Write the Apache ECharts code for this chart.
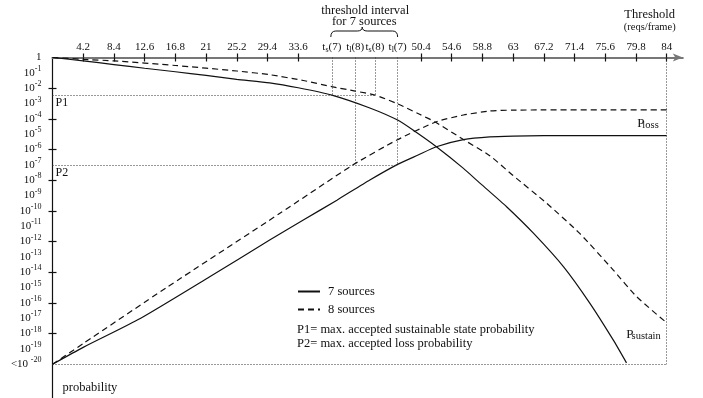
<!DOCTYPE html>
<html><head><meta charset="utf-8">
<script src="https://cdn.jsdelivr.net/npm/echarts@6/dist/echarts.min.js"></script>
<style>html,body{margin:0;padding:0;background:#fff}#c{width:703px;height:398px}</style>
</head><body><div id="c"></div>
<script>
// ---- axis ticks / labels ----
const xTickValues = [4.2, 8.4, 12.6, 16.8, 21, 25.2, 29.4, 33.6, 50.4, 54.6, 58.8, 63, 67.2, 71.4, 75.6, 79.8, 84];
const yLabelExponents = [0, -1, -2, -3, -4, -5, -6, -7, -8, -9, -10, -11, -12, -13, -14, -15, -16, -17, -18, -19, -20];
const yTickExponents = [-2, -4, -6, -8, -10, -12, -14, -16, -18];

// ---- threshold markers ----
const thresholdNames = ['ts(7)', 'tl(8)', 'ts(8)', 'tl(7)'];
const thresholdValues = [38.2, 41.4, 44.1, 47.2];
const thresholdLevel = ['P1', 'P2', 'P1', 'P2'];
const P1Log = -2.45;   // log10 of max. accepted sustainable state probability
const P2Log = -7;      // log10 of max. accepted loss probability
const floorLog = -20;
const xEnd = 84;

// ---- curves (threshold, log10 probability) ----
const sustain7X   = [0, 4.2, 8.4, 12.6, 16.8, 21, 25.2, 29.7, 33.6, 38.2, 43.4, 47.2, 49.3, 52.5, 56.2, 58.5, 62.1, 65.8, 69.9, 73.5, 76.7, 78.5];
const sustain7Log = [0, -0.22, -0.46, -0.70, -0.93, -1.17, -1.42, -1.65, -1.97, -2.45, -3.29, -4.08, -4.73, -5.82, -7.23, -8.21, -9.73, -11.47, -13.65, -16.03, -18.43, -19.91];

const sustain8X   = [0, 4.2, 8.4, 16.8, 25.2, 29.7, 34.3, 38.2, 41.4, 44.1, 47.2, 50.2, 52.4, 56.2, 59.8, 63.0, 67.6, 72.1, 76.7, 79.9, 84];
const sustain8Log = [0, -0.12, -0.22, -0.52, -0.88, -1.12, -1.50, -1.90, -2.19, -2.45, -3.02, -3.70, -4.22, -5.35, -6.40, -7.70, -9.51, -11.47, -13.86, -15.60, -17.30];

const loss7X   = [0, 4.2, 12.0, 21.5, 29.7, 34.3, 38.9, 43.4, 47.2, 50.0, 52.5, 56.2, 59.8, 63, 67.2, 75.6, 84];
const loss7Log = [-20, -18.9, -17.02, -14.30, -11.9, -10.6, -9.30, -7.99, -6.97, -6.36, -5.82, -5.36, -5.18, -5.13, -5.10, -5.09, -5.09];

const loss8X   = [0, 4.2, 15.6, 31.1, 41.1, 47.1, 52.5, 56.2, 59.8, 63, 67.2, 75.6, 84];
const loss8Log = [-20, -18.65, -15.0, -10.16, -7.0, -5.38, -4.19, -3.75, -3.49, -3.43, -3.42, -3.42, -3.42];

const FONT = '"Liberation Serif", "Times New Roman", serif';
const zip = (xs, ys) => xs.map((x, i) => [x, ys[i]]);

const chart = echarts.init(document.getElementById('c'), null, {renderer: 'canvas'});

const dotted = {type: [1, 2], color: '#333', width: 1};
const markLines = [];
thresholdValues.forEach((v, i) => {
  const lvl = thresholdLevel[i] === 'P1' ? P1Log : P2Log;
  markLines.push([{coord: [v, 0]}, {coord: [v, lvl]}]);
});
markLines.push([{coord: [0, P1Log]}, {coord: [thresholdValues[2], P1Log]}]);
markLines.push([{coord: [0, P2Log]}, {coord: [thresholdValues[3], P2Log]}]);
markLines.push([{coord: [0, floorLog]}, {coord: [xEnd, floorLog]}]);
markLines.push([{coord: [xEnd, 0]}, {coord: [xEnd, floorLog]}]);

function xLabel(v) {
  const k = thresholdValues.findIndex(t => Math.abs(t - v) < 1e-6);
  if (k >= 0) {
    const n = thresholdNames[k];
    return '{t|t}{sub|' + n.charAt(1) + '}{t|' + n.slice(2) + '}';
  }
  return '{t|' + v + '}';
}
function yLabel(v) {
  if (v === 0) return '{b|1}';
  if (v === -20) return '{b|<10 }{sup|-20}';
  return '{b|10}{sup|' + v + '}';
}

const lineBase = {type: 'line', showSymbol: false, symbol: 'none', smooth: 0.2, z: 3};

chart.setOption({
  animation: false,
  backgroundColor: '#fff',
  grid: {left: 52.5, top: 57.5, right: 20.2, bottom: 0, containLabel: false},
  legend: {
    data: ['7 sources', '8 sources'], orient: 'vertical', left: 297, top: 285,
    padding: 0, itemWidth: 22, itemHeight: 12, itemGap: 5, selectedMode: false,
    itemStyle: {color: 'rgba(0,0,0,0)', borderWidth: 0, opacity: 0},
    textStyle: {fontFamily: FONT, fontSize: 12.5, color: '#111', padding: [0, 0, 0, 3]}
  },
  xAxis: [{
    type: 'value', position: 'top', min: 0, max: 86.2,
    axisLine: {show: true, onZero: false, symbol: ['none', 'arrow'], symbolSize: [6, 10], lineStyle: {color: '#777', width: 2}},
    axisTick: {show: true, inside: false, length: 4, customValues: xTickValues, lineStyle: {color: '#111', width: 1.2}},
    axisLabel: {
      show: true, margin: 3.5, customValues: xTickValues.concat(thresholdValues), formatter: xLabel,
      color: '#111', fontFamily: FONT,
      rich: {
        t: {fontFamily: FONT, fontSize: 11, lineHeight: 14, color: '#111'},
        sub: {fontFamily: FONT, fontSize: 8, lineHeight: 8, verticalAlign: 'bottom', color: '#111'}
      }
    },
    splitLine: {show: false}
  }, {
    type: 'value', position: 'top', min: 0, max: 86.2,
    axisLine: {show: false, onZero: false},
    axisTick: {show: true, inside: true, length: 4, customValues: xTickValues, lineStyle: {color: '#111', width: 1.2}},
    axisLabel: {show: false},
    splitLine: {show: false}
  }],
  yAxis: [{
    type: 'value', position: 'left', min: -22.2, max: 0,
    axisLine: {show: true, onZero: false, lineStyle: {color: '#111', width: 1.2}},
    axisTick: {show: true, inside: false, length: 4, customValues: yTickExponents, lineStyle: {color: '#111', width: 1.2}},
    axisLabel: {
      show: true, margin: 11, customValues: yLabelExponents, formatter: yLabel,
      rich: {
        b: {fontFamily: FONT, fontSize: 11, lineHeight: 16, color: '#111'},
        sup: {fontFamily: FONT, fontSize: 8, lineHeight: 10, verticalAlign: 'top', color: '#111'}
      }
    },
    splitLine: {show: false}
  }, {
    type: 'value', position: 'left', min: -22.2, max: 0,
    axisLine: {show: false, onZero: false},
    axisTick: {show: true, inside: true, length: 4, customValues: yTickExponents, lineStyle: {color: '#111', width: 1.2}},
    axisLabel: {show: false},
    splitLine: {show: false}
  }],
  series: [
    Object.assign({}, lineBase, {
      name: '7 sources', data: zip(sustain7X, sustain7Log),
      lineStyle: {color: '#111', width: 1.2, type: 'solid'}, itemStyle: {color: '#111'},
      markLine: {silent: true, symbol: ['none', 'none'], label: {show: false}, lineStyle: dotted, data: markLines, animation: false}
    }),
    Object.assign({}, lineBase, {
      name: '7 sources', data: zip(loss7X, loss7Log),
      lineStyle: {color: '#111', width: 1.2, type: 'solid'}, itemStyle: {color: '#111'}
    }),
    Object.assign({}, lineBase, {
      name: '8 sources', data: zip(sustain8X, sustain8Log),
      lineStyle: {color: '#111', width: 1.2, type: [6, 4]}, itemStyle: {color: '#111'}
    }),
    Object.assign({}, lineBase, {
      name: '8 sources', data: zip(loss8X, loss8Log),
      lineStyle: {color: '#111', width: 1.2, type: [6, 4]}, itemStyle: {color: '#111'}
    })
  ]
});

// ---- annotations ----
const px = (x, y) => chart.convertToPixel({xAxisIndex: 0, yAxisIndex: 0}, [x, y]);
const a = px(thresholdValues[0], 0), b = px(thresholdValues[3], 0);
const x1 = a[0] - 1, x2 = b[0], xm = (x1 + x2) / 2 - 2;
const bT = 31, bE = 37, bTip = 27;
const braceStyle = {stroke: '#111', lineWidth: 1, fill: null};
const bez = (p1, cp, p2) => ({type: 'bezierCurve', silent: true, z: 10, shape: {x1: p1[0], y1: p1[1], cpx1: cp[0], cpy1: cp[1], x2: p2[0], y2: p2[1]}, style: braceStyle});
const seg = (p1, p2) => ({type: 'line', silent: true, z: 10, shape: {x1: p1[0], y1: p1[1], x2: p2[0], y2: p2[1]}, style: braceStyle});
const pe = px(xEnd, 0), pf = px(0, floorLog), p1 = px(0, P1Log), p2 = px(0, P2Log);
const txt = (text, x, y, size, align, extra) => ({
  type: 'text', silent: true, z: 10,
  style: Object.assign({text, x, y, fill: '#111', font: size + 'px ' + FONT, textAlign: align || 'left', textVerticalAlign: 'middle'}, extra || {})
});
const subRich = {p: {fontFamily: FONT, fontSize: 13, fill: '#111'}, s: {fontFamily: FONT, fontSize: 10.5, fill: '#111', padding: [3, 0, 0, -2]}};
chart.setOption({
  graphic: [
    bez([x1, bE], [x1, bT], [x1 + 5, bT]),
    seg([x1 + 5, bT], [xm - 5, bT]),
    bez([xm - 5, bT], [xm, bT], [xm, bTip]),
    bez([xm, bTip], [xm, bT], [xm + 5, bT]),
    seg([xm + 5, bT], [x2 - 5, bT]),
    bez([x2 - 5, bT], [x2, bT], [x2, bE]),
    txt('threshold interval', xm + 3, 10.5, 12.5, 'center'),
    txt('for 7 sources', xm + 2, 22, 12.5, 'center'),
    txt('Threshold', pe[0] - 17, 15, 12.5, 'center'),
    txt('(reqs/frame)', pe[0] - 17, 27, 10.5, 'center'),
    txt('P1', p1[0] + 3, p1[1] + 8, 12, 'left'),
    txt('P2', p2[0] + 3, p2[1] + 7.5, 12, 'left'),
    txt('probability', pf[0] + 10, 388, 12.5, 'left'),
    txt('P1= max. accepted sustainable state probability', 297, 330, 12.5, 'left'),
    txt('P2= max. accepted loss probability', 297, 344, 12.5, 'left'),
    txt('{p|P}{s|loss}', pe[0] - 8, 124, 13, 'right', {rich: subRich}),
    txt('{p|P}{s|sustain}', pe[0] - 6, 335, 13, 'right', {rich: subRich})
  ]
});
</script>
</body></html>
